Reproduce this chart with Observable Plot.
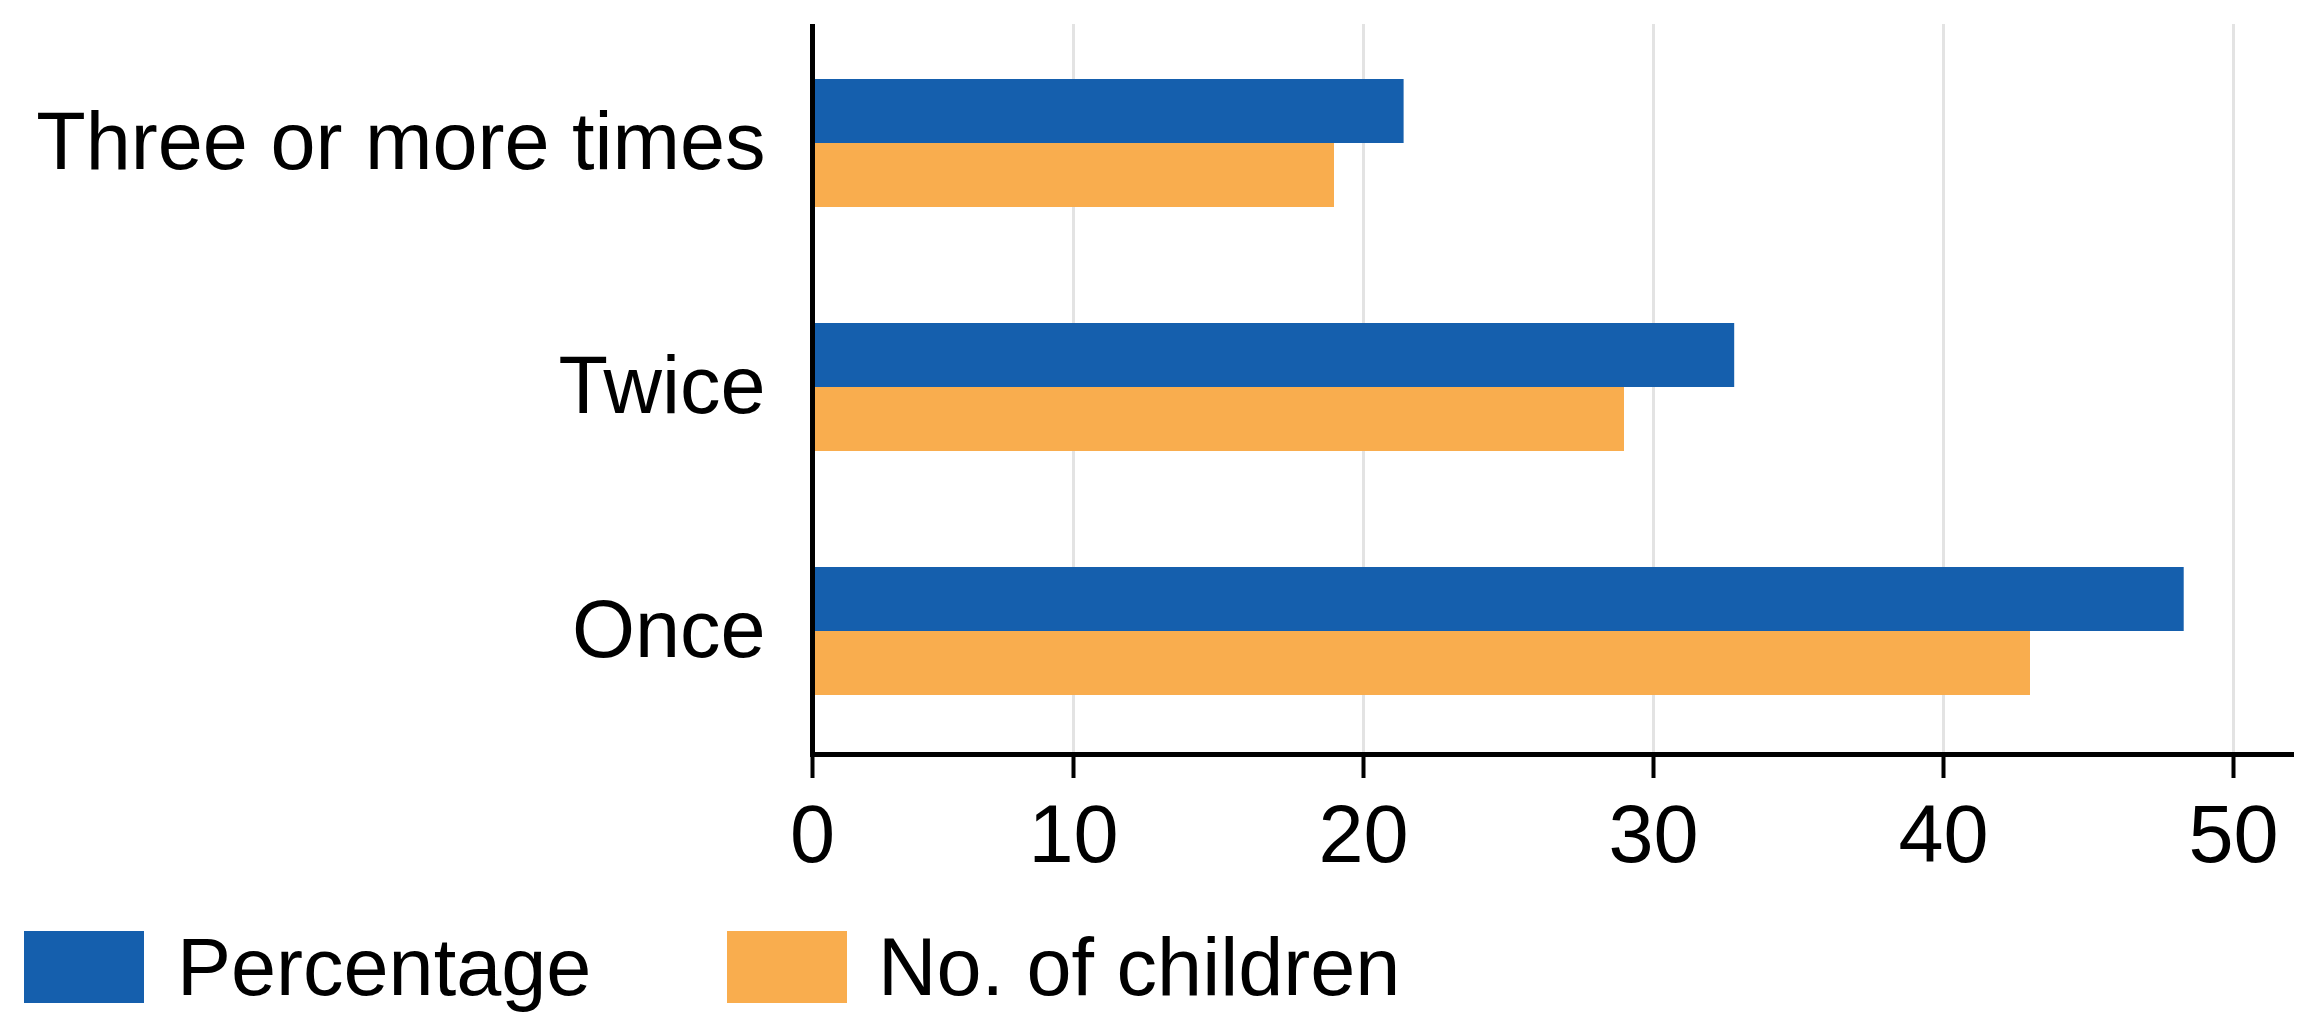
<!DOCTYPE html>
<html>
<head>
<meta charset="utf-8">
<script src="https://cdn.jsdelivr.net/npm/d3@7"></script>
<script src="https://cdn.jsdelivr.net/npm/@observablehq/plot@0.6"></script>
<style>
  html, body { margin: 0; padding: 0; background: #fff; }
  body { width: 2317px; height: 1022px; overflow: hidden; font-family: "Liberation Sans", Arial, sans-serif; }
  #chart { position: relative; }
  #legend { position: relative; height: 122px; }
  .sw { position: absolute; top: 31px; width: 120px; height: 72px; }
  .lt { position: absolute; top: 31px; height: 72px; line-height: 72px; font-size: 81px; color: #000; }
</style>
</head>
<body>
<div id="chart"></div>
<div id="legend"></div>
<script>
const categories = ["Three or more times", "Twice", "Once"];
const series = ["Percentage", "No. of children"];
const percentage = [21.4, 32.8, 48.3];
const children = [19.0, 29.0, 43.0];
const xTicks = [0, 10, 20, 30, 40, 50];
const colors = ["#155fad", "#f9ad4e"];

const rows = [];
categories.forEach((c, i) => {
  rows.push({category: c, series: series[0], value: percentage[i]});
  rows.push({category: c, series: series[1], value: children[i]});
});

const W = 2317, H = 900;
const band = 128;

const plot = Plot.plot({
  width: W,
  height: H,
  marginLeft: 812,
  marginRight: 26,
  marginTop: 24,
  marginBottom: 146,
  style: {fontFamily: "Liberation Sans, Arial, sans-serif", fontSize: "81px", color: "#000", background: "#fff"},
  x: {type: "linear", domain: [0, 10, 52], range: [812, 1073, 2291], label: null},
  y: {domain: categories, paddingInner: 0.4765, paddingOuter: 0.231, align: 0.48, label: null},
  color: {domain: series, range: colors},
  marks: [
    Plot.ruleX(xTicks.filter(d => d > 0), {stroke: "#e3e3e3", strokeWidth: 3}),
    Plot.barX(rows.filter(d => d.series === series[0]), {x: "value", y: "category", fill: "series", insetBottom: band / 2}),
    Plot.barX(rows.filter(d => d.series === series[1]), {x: "value", y: "category", fill: "series", insetTop: band / 2}),
    Plot.ruleX([0], {stroke: "#000", strokeWidth: 5}),
    Plot.frame({anchor: "bottom", stroke: "#000", strokeWidth: 5}),
    Plot.axisX(xTicks, {tickSize: 24, tickPadding: 26, strokeWidth: 4, tickFormat: d => String(d), label: null, fontSize: 81}),
    Plot.axisY({tickSize: 0, tickPadding: 47, label: null, fontSize: 81})
  ]
});
document.getElementById("chart").appendChild(plot);

const legend = document.getElementById("legend");
const pos = [{sw: 24, tx: 177}, {sw: 727, tx: 878}];
series.forEach((s, i) => {
  const sw = document.createElement("div");
  sw.className = "sw";
  sw.style.left = pos[i].sw + "px";
  sw.style.background = colors[i];
  legend.appendChild(sw);
  const t = document.createElement("div");
  t.className = "lt";
  t.style.left = pos[i].tx + "px";
  t.textContent = s;
  legend.appendChild(t);
});
</script>
</body>
</html>
